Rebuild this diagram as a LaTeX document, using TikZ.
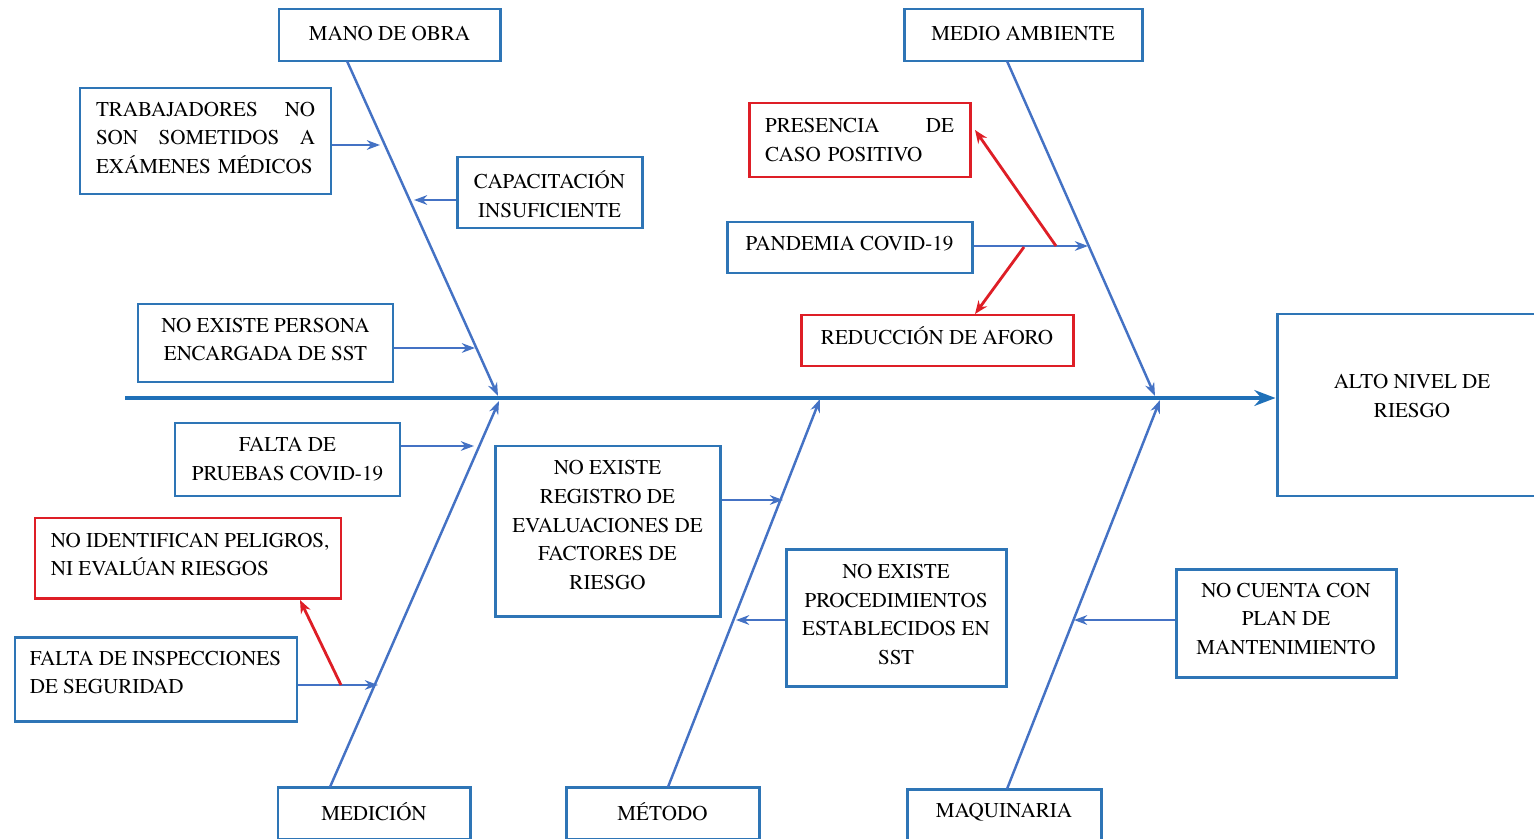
\documentclass[tikz,border=0pt]{standalone}
\usepackage{fontspec}
\newfontfamily\tnr{texgyretermes}[Extension=.otf,UprightFont=*-regular,BoldFont=*-bold]
\usetikzlibrary{arrows.meta,fit}
\definecolor{boxblue}{RGB}{46,117,182}
\definecolor{spineblue}{RGB}{31,112,184}
\definecolor{lineblue}{RGB}{68,114,196}
\definecolor{myred}{RGB}{222,30,38}
\begin{document}
\begin{tikzpicture}[x=0.02cm,y=-0.02cm,
  tx/.style={font={\tnr\fontsize{12}{16.4}\selectfont},align=center,inner sep=0pt},
  bbox/.style={draw=boxblue,line width=1.7pt,inner sep=0pt},
  rbox/.style={bbox,draw=myred},
  diag/.style={draw=lineblue,line width=1.4pt,-{Stealth[length=7.5pt,width=5.5pt]}},
  sub/.style={draw=lineblue,line width=1.5pt,-{Stealth[length=7.5pt,width=5.5pt]}},
  redarr/.style={draw=myred,line width=1.6pt,-{Stealth[length=7.5pt,width=6pt]}},
  spine/.style={draw=spineblue,line width=2.4pt,-{Stealth[length=12pt,width=9pt]}}]
\useasboundingbox (0,0) rectangle (1534,838);

% category boxes
\node[bbox,fit={(279,9) (500,61)},label={[tx,yshift=1.1pt]center:MANO DE OBRA}] (mano) {};
\node[bbox,fit={(904,9) (1142,61)},label={[tx,yshift=1.1pt]center:MEDIO AMBIENTE}] (medio) {};
\node[bbox,fit={(278,787) (470,839)},label={[tx,yshift=0.5pt]center:MEDICIÓN}] (medic) {};
\node[bbox,fit={(566,787) (759,839)},label={[tx,yshift=1pt]center:MÉTODO}] (metodo) {};
\node[bbox,fit={(907,789) (1101,841)},label={[tx,yshift=1.7pt]center:MAQUINARIA}] (maqui) {};

% effect
\node[bbox,fit={(1277,314) (1547,496)},label={[tx,yshift=5.1pt]center:ALTO NIVEL DE\\RIESGO}] (alto) {};

% cause boxes
\node[bbox,fit={(80,88) (331,194)},label={[tx,align=left,text width=4.38cm,yshift=1.7pt]center:TRABAJADORES\hfill NO\\SON\hfill SOMETIDOS\hfill A\\EXÁMENES MÉDICOS}] (trab) {};
\node[bbox,fit={(457,157) (642,228)},label={[tx,yshift=-1.1pt]center:CAPACITACIÓN\\INSUFICIENTE}] (capa) {};
\node[bbox,fit={(138,304) (393,382)},label={[tx,yshift=2pt]center:NO EXISTE PERSONA\\ENCARGADA DE SST}] (pers) {};
\node[rbox,fit={(749,103) (970,177)},label={[tx,align=left,text width=3.78cm]center:PRESENCIA\hfill DE\\CASO POSITIVO}] (pres) {};
\node[bbox,fit={(727,222) (972,273)},label={[tx,yshift=2pt]center:PANDEMIA COVID-19}] (pand) {};
\node[rbox,fit={(801,315) (1073,366)},label={[tx,yshift=2.5pt]center:REDUCCIÓN DE AFORO}] (redu) {};
\node[bbox,fit={(175,423) (400,496)},label={[tx]center:FALTA DE\\PRUEBAS COVID-19}] (falta) {};
\node[rbox,fit={(35,518) (341,598)},label={[tx,align=left,anchor=west,xshift=0.34cm,yshift=2pt]west:NO IDENTIFICAN PELIGROS,\\NI EVALÚAN RIESGOS}] (noid) {};
\node[bbox,fit={(15,637) (297,721)},label={[tx,align=left,anchor=west,xshift=0.32cm,yshift=3.7pt]west:FALTA DE INSPECCIONES\\DE SEGURIDAD}] (insp) {};
\node[bbox,fit={(495,446) (720,616)},label={[tx,yshift=3.4pt]center:NO EXISTE\\REGISTRO DE\\EVALUACIONES DE\\FACTORES DE\\RIESGO}] (reg) {};
\node[bbox,fit={(786,549) (1006,686)},label={[tx,yshift=1.7pt]center:NO EXISTE\\PROCEDIMIENTOS\\ESTABLECIDOS EN\\SST}] (proc) {};
\node[bbox,fit={(1176,569) (1396,677)},label={[tx,yshift=2.3pt]center:NO CUENTA CON\\PLAN DE\\MANTENIMIENTO}] (nocu) {};

% coordinates
\coordinate (spL) at (125,398);
\coordinate (manoS) at (347,61);
\coordinate (medioS) at (1007,61);
\coordinate (medicN) at (330,787);
\coordinate (metodoN) at (668,787);
\coordinate (maquiN) at (1007,789);
\coordinate (j1) at (498,396);
\coordinate (j2) at (1155,396);
\coordinate (j3) at (499,401);
\coordinate (j4) at (820,399);
\coordinate (j5) at (1160,400);
\coordinate (t1) at (380,145);
\coordinate (c1) at (414,200);
\coordinate (p1) at (475,348);
\coordinate (pa1) at (1088,246);
\coordinate (f1) at (474,446);
\coordinate (i1) at (378,685);
\coordinate (r1) at (783,500);
\coordinate (pr1) at (736,620);
\coordinate (n1) at (1074,620);
\coordinate (rdA) at (1056,246);
\coordinate (rdB) at (1024,247);
\coordinate (presT) at (975,130);
\coordinate (reduT) at (975,314);
\coordinate (rdC) at (341,685);
\coordinate (noidT) at (300,600);

% spine
\draw[spine] (spL) -- (spL -| alto.west);

% bones
\draw[diag] (manoS) -- (j1);
\draw[diag] (medioS) -- (j2);
\draw[diag] (medicN) -- (j3);
\draw[diag] (metodoN) -- (j4);
\draw[diag] (maquiN) -- (j5);

% sub causes
\draw[sub] (trab.east |- t1) -- (t1);
\draw[sub] (capa.west |- c1) -- (c1);
\draw[sub] (pers.east |- p1) -- (p1);
\draw[sub] (pand.east |- pa1) -- (pa1);
\draw[sub] (falta.east |- f1) -- (f1);
\draw[sub] (insp.east |- i1) -- (i1);
\draw[sub] (reg.east |- r1) -- (r1);
\draw[sub] (proc.west |- pr1) -- (pr1);
\draw[sub] (nocu.west |- n1) -- (n1);

% red links
\draw[redarr] (rdA) -- (presT);
\draw[redarr] (rdB) -- (reduT);
\draw[redarr] (rdC) -- (noidT);
\end{tikzpicture}
\end{document}
